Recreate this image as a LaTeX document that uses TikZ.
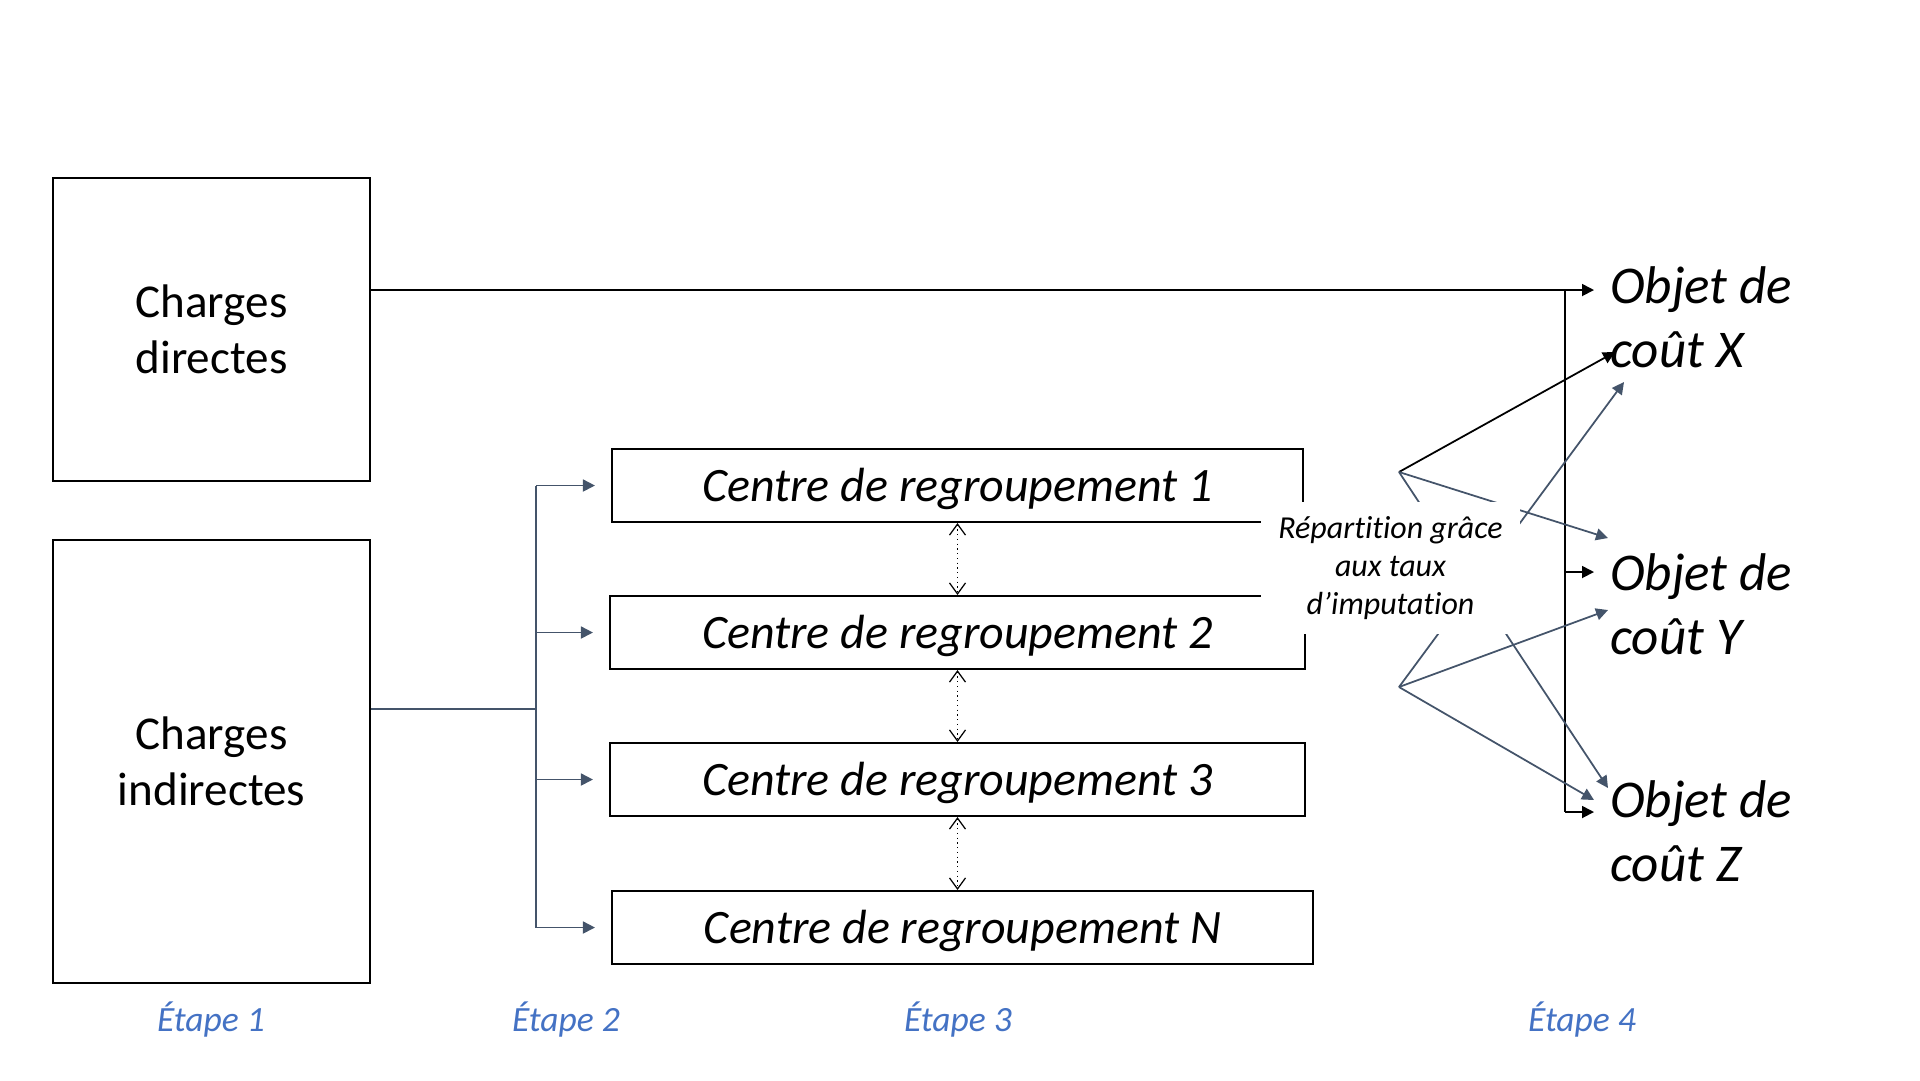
\documentclass[tikz,border=0pt]{standalone}
\usepackage{fontspec}
\setmainfont{Carlito}[RawFeature=-liga,RawFeature=-clig,RawFeature=-calt,RawFeature=-dlig]
\usetikzlibrary{arrows.meta,calc}
\definecolor{slate}{HTML}{44546A}
\definecolor{stepblue}{HTML}{4472C4}
\begin{document}
\begin{tikzpicture}[x=0.1mm,y=-0.1mm,
 box/.style={draw=black,line width=0.6pt,inner sep=0pt,align=center},
 bigbox/.style={box,minimum width=31.7mm,font=\fontsize{13.4pt}{16.1pt}\selectfont},
 centre/.style={box,minimum height=7.3mm,text height=3.6mm,text depth=0.46mm,font=\fontsize{13.65pt}{16pt}\selectfont\itshape},
 conn/.style={draw=slate,line width=0.5pt},
 tri/.style={-{Triangle[length=1.2mm,width=1.2mm]}},
 blk/.style={draw=black,line width=0.5pt},
 dots/.style={draw=black,line width=0.35pt,densely dotted,{Straight Barb[length=1.1mm,width=1.6mm]}-{Straight Barb[length=1.1mm,width=1.6mm]}},
 objet/.style={anchor=west,inner sep=0pt,align=left,font=\fontsize{15.1pt}{18.2pt}\selectfont\itshape},
 etape/.style={text=stepblue,inner sep=0pt,font=\fontsize{10.1pt}{12pt}\selectfont\itshape},
 repart/.style={fill=white,inner sep=0pt,align=center,minimum width=25.9mm,minimum height=13.2mm,font=\fontsize{9.1pt}{10.8pt}\selectfont\itshape}
]
\useasboundingbox (0,0) rectangle (1920,1080);

% left boxes
\node[bigbox,minimum height=30.3mm] (cd) at (211.5,329.5) {Charges\\directes};
\node[bigbox,minimum height=44.3mm] (ci) at (211.5,761.5) {Charges\\indirectes};

% centres
\node[centre,minimum width=69.1mm] (c1) at (957.5,485.5) {Centre de regroupement 1};
\node[centre,minimum width=69.5mm] (c2) at (957.5,632.5) {Centre de regroupement 2};
\node[centre,minimum width=69.5mm] (c3) at (957.5,779.5) {Centre de regroupement 3};
\node[centre,minimum width=70.1mm] (cN) at (962.5,927.5) {Centre de regroupement N};

% objects
\node[objet] (oX) at (1609.5,317) {Objet de\\coût X};
\node[objet] (oY) at (1609.5,604) {Objet de\\coût Y};
\node[objet] (oZ) at (1609.5,831.5) {Objet de\\coût Z};

% distribution from indirect charges
\coordinate (j) at (536,709);
\draw[conn] (ci.east |- j) -- (j);
\draw[conn] (j |- c1.west) -- (j |- cN.west);
\foreach \c in {c1,c2,c3,cN}
  \draw[conn,tri,shorten >=1.6mm] (j |- \c.west) -- (\c.west);

% links between centres
\draw[dots] (c1.south) -- (c2.north);
\draw[dots] (c2.south) -- (c3.north);
\draw[dots] (c3.south) -- (c3.south |- cN.north);

% direct charges to objects
\coordinate (aX) at (1594,290);
\coordinate (aY) at (1594,572);
\coordinate (aZ) at (1594,812);
\coordinate (br) at (1565,290);
\draw[blk,tri] (cd.east |- aX) -- (aX);
\draw[blk] (br) -- (br |- aZ);
\draw[blk,tri] (br |- aY) -- (aY);
\draw[blk,tri] (br |- aZ) -- (aZ);

% allocation fan
\coordinate (s1) at (1399,472);
\coordinate (s2) at (1399,687);
\coordinate (x1) at (1615,352);
\coordinate (y1) at (1608,538);
\coordinate (z1) at (1608,788);
\coordinate (x2) at (1624,382);
\coordinate (y2) at (1608,610);
\coordinate (z2) at (1594,800);
\draw[blk,tri] (s1) -- (x1);
\draw[conn,tri] (s1) -- (y1);
\draw[conn,tri] (s1) -- (z1);
\draw[conn,tri] (s2) -- (x2);
\draw[conn,tri] (s2) -- (y2);
\draw[conn,tri] (s2) -- (z2);

\node[repart] (rep) at (1390.5,568) {Répartition grâce\\aux taux\\d’imputation};

% steps
\node[etape] (e1) at (211,1020) {Étape 1};
\node[etape] (e2) at (566,1020) {Étape 2};
\node[etape] (e3) at (958,1020) {Étape 3};
\node[etape] (e4) at (1582,1020) {Étape 4};
\end{tikzpicture}
\end{document}
